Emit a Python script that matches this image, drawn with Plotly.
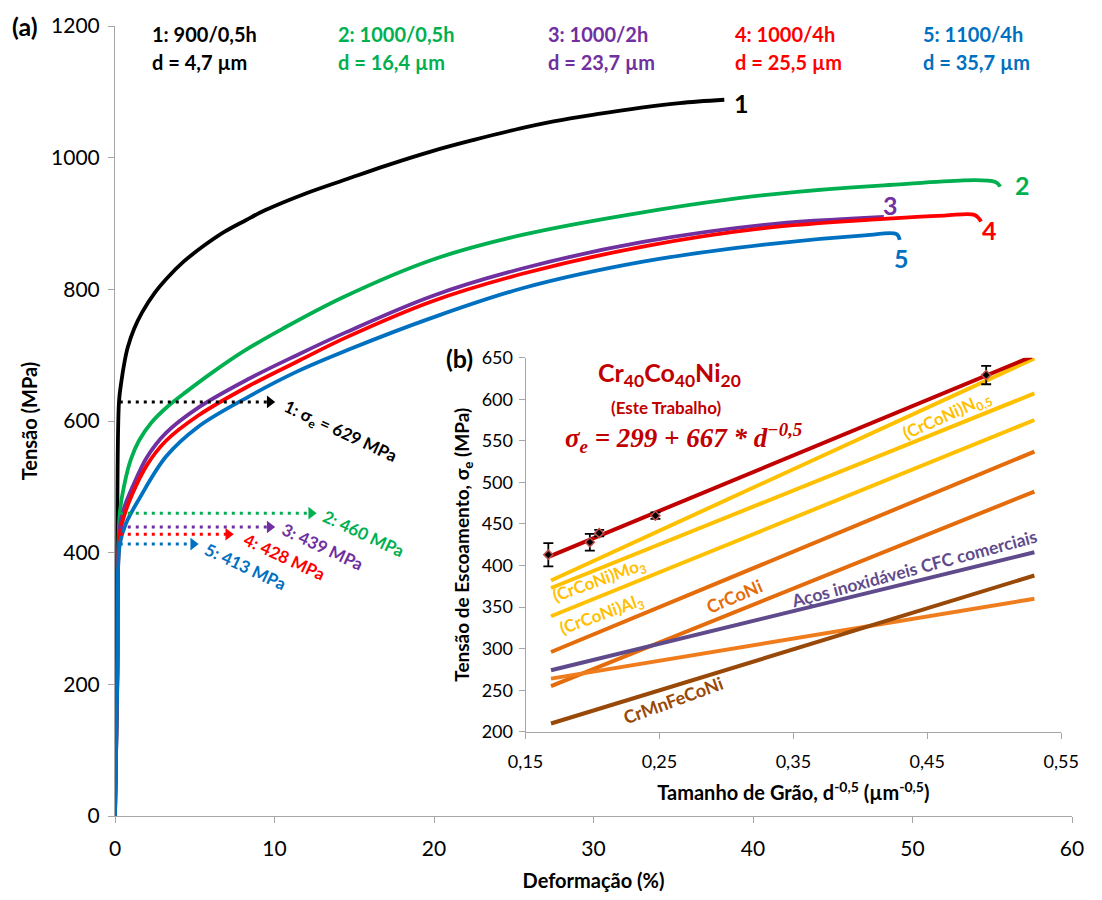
import plotly.graph_objects as go

# ---------------- Tensile curves: strain (%) vs. stress (MPa) ----------------
strain_1 = [0, 0.12, 0.25, 0.4, 0.6, 0.8, 1.2, 1.7, 2.5, 3.3, 4.3, 5.5, 6.9, 8.2, 9.4, 12.0,
            14.6, 17.0, 19.9, 22.5, 25.0, 27.5, 30.2, 33.0, 35.4, 38.2]
stress_1 = [0, 320, 629, 660, 690, 712, 740, 765, 795, 818, 842, 865, 888, 905, 920, 946,
            968, 988, 1010, 1027, 1042, 1055, 1066, 1076, 1083, 1088]

strain_2 = [0, 0.15, 0.3, 0.6, 1.0, 1.5, 2.3, 3.3, 4.5, 6.0, 8.0, 10.5, 14.3, 19.9, 25.6,
            33.1, 40.7, 48.2, 55.2, 55.5]
stress_2 = [0, 230, 460, 505, 542, 570, 598, 622, 645, 672, 705, 740, 788, 845, 883,
            917, 943, 958, 963, 956]

strain_3 = [0, 0.15, 0.3, 0.6, 1.1, 2.0, 3.2, 5.2, 8.3, 11.4, 14.5, 19.9, 25.6, 33.1, 40.7, 48.2]
stress_3 = [0, 220, 439, 470, 500, 545, 582, 620, 663, 700, 735, 790, 832, 872, 898, 910]

strain_4 = [0, 0.15, 0.3, 0.6, 1.1, 2.0, 3.2, 5.2, 8.3, 11.4, 14.5, 19.9, 25.6, 33.1, 40.7,
            48.2, 52.0, 53.9, 54.3]
stress_4 = [0, 214, 428, 458, 490, 533, 570, 608, 652, 690, 727, 782, 824, 865, 893,
            907, 912, 913, 903]

strain_5 = [0, 0.15, 0.3, 0.7, 1.5, 3.2, 5.2, 8.3, 11.4, 14.5, 19.9, 25.6, 33.1, 40.7, 47.0, 49.0, 49.2]
stress_5 = [0, 206, 413, 445, 481, 546, 591, 636, 675, 707, 757, 802, 842, 868, 882, 884, 875]

curve_ids = ["1", "2", "3", "4", "5"]
treatments = ["900/0,5h", "1000/0,5h", "1000/2h", "1000/4h", "1100/4h"]
grain_size = ["4,7", "16,4", "23,7", "25,5", "35,7"]        # µm
yield_stress = [629, 460, 439, 428, 413]                     # MPa

# ---------------- Hall-Petch inset ----------------
hp_x = [0.167, 0.198, 0.205, 0.247, 0.494]                  # d^-0.5 (µm^-0.5)
hp_y = [413, 428, 439, 460, 629]                             # MPa
hp_err = [14, 10, 4, 4, 11]
fit_a, fit_b = 299, 667
fit_x = [0.168, 0.528]

lit_names = ["(CrCoNi)N0,5", "(CrCoNi)Mo3", "(CrCoNi)Al3", "CrCoNi", "CrCoNi b",
             "CrCoNi c", "Aços inoxidáveis CFC comerciais", "CrMnFeCoNi"]
lit_x = [0.169, 0.530]
lit_start = [382, 373, 339, 296, 255, 264, 274, 210]
lit_end = [649, 607, 575, 537, 489, 360, 416, 388]

# ---------------- styling ----------------
curve_colors = ["#000000", "#00b050", "#7030a0", "#ff0000", "#0070c0"]
lit_colors = ["#ffc000", "#ffc000", "#ffc000", "#e46c0a", "#e46c0a", "#ef7d1e", "#5f4b8b", "#984807"]
fit_color = "#c00000"
axis_gray = "#a6a6a6"
FONT = "Lato"

# figure frame (pixels)
W, H = 1102, 900
ML, MR, MT, MB = 115, 15, 22, 80


def px(x):
    return (x - ML) / (W - ML - MR)


def py(y):
    return (H - MB - y) / (H - MT - MB)


fig = go.Figure()

strains = [strain_1, strain_2, strain_3, strain_4, strain_5]
stresses = [stress_1, stress_2, stress_3, stress_4, stress_5]
for s, t, c in zip(strains, stresses, curve_colors):
    fig.add_trace(go.Scatter(
        x=s, y=t, mode="lines", hoverinfo="skip",
        line=dict(color=c, width=3.8, shape="spline", smoothing=1.0),
    ))

# dotted arrows marking the yield stress of each curve
arrow_start = 0.3
arrow_tip = [9.7, 12.3, 9.7, 7.1, 4.9]
for ys, tip, c in zip(yield_stress, arrow_tip, curve_colors):
    fig.add_trace(go.Scatter(
        x=[arrow_start, tip], y=[ys, ys], mode="lines", hoverinfo="skip",
        line=dict(color=c, width=3, dash="3px,5px"),
    ))
    fig.add_trace(go.Scatter(
        x=[tip], y=[ys], mode="markers", hoverinfo="skip",
        marker=dict(symbol="triangle-right", size=11, color=c),
    ))

# literature Hall-Petch lines
for s0, s1, c in zip(lit_start, lit_end, lit_colors):
    fig.add_trace(go.Scatter(
        x=lit_x, y=[s0, s1], mode="lines", hoverinfo="skip",
        xaxis="x2", yaxis="y2", line=dict(color=c, width=4),
    ))

# fit of this work
fig.add_trace(go.Scatter(
    x=fit_x, y=[fit_a + fit_b * v for v in fit_x], mode="lines", hoverinfo="skip",
    xaxis="x2", yaxis="y2", line=dict(color=fit_color, width=4),
))
fig.add_trace(go.Scatter(
    x=hp_x, y=hp_y, mode="markers", hoverinfo="skip", xaxis="x2", yaxis="y2",
    marker=dict(symbol="diamond", size=7, color="#000000",
                line=dict(color="#c0504d", width=1.5)),
    error_y=dict(type="data", array=hp_err, color="#000000", thickness=1.8, width=5),
))

ann = []

# series descriptions across the top
legend_x = [151, 339, 553, 743, 934]
for i in range(5):
    ann.append(dict(xref="paper", yref="paper", x=px(legend_x[i]), y=py(30),
                    xanchor="left", yanchor="middle", showarrow=False,
                    text=f"<b>{curve_ids[i]}: {treatments[i]}</b>",
                    font=dict(size=20, color=curve_colors[i], family=FONT)))
    ann.append(dict(xref="paper", yref="paper", x=px(legend_x[i]), y=py(58),
                    xanchor="left", yanchor="middle", showarrow=False,
                    text=f"<b>d = {grain_size[i]} µm</b>",
                    font=dict(size=20, color=curve_colors[i], family=FONT)))

# curve end numbers
end_label_pos = [(39.3, 1083), (56.9, 958), (48.6, 928), (54.8, 890), (49.3, 847)]
for (xx, yy), cid, c in zip(end_label_pos, curve_ids, curve_colors):
    ann.append(dict(x=xx, y=yy, xref="x", yref="y", showarrow=False, text=f"<b>{cid}</b>",
                    font=dict(size=25, color=c, family=FONT)))

# yield stress labels
ys_label_pos = [(14.1, 583), (15.6, 429), (13.0, 409), (10.6, 394), (8.2, 379)]
for i, ((xx, yy), c) in enumerate(zip(ys_label_pos, curve_colors)):
    if i == 0:
        txt = f"<b>{curve_ids[i]}: σ<sub>e</sub> = {yield_stress[i]} MPa</b>"
    else:
        txt = f"<b>{curve_ids[i]}: {yield_stress[i]} MPa</b>"
    ann.append(dict(x=xx, y=yy, xref="x", yref="y", showarrow=False, text=txt,
                    textangle=25, font=dict(size=17, color=c, family=FONT)))

# panel letters
ann.append(dict(xref="paper", yref="paper", x=px(8), y=py(22), xanchor="left", yanchor="middle",
                showarrow=False, text="<b>(a)</b>", font=dict(size=25, family=FONT, color="#000")))
ann.append(dict(xref="paper", yref="paper", x=px(449), y=py(357), xanchor="left", yanchor="middle",
                showarrow=False, text="<b>(b)</b>", font=dict(size=25, family=FONT, color="#000")))

# inset heading and fitted equation
ann.append(dict(xref="paper", yref="paper", x=px(678), y=py(374), showarrow=False,
                text="<b>Cr<sub>40</sub>Co<sub>40</sub>Ni<sub>20</sub></b>",
                font=dict(size=25, color=fit_color, family=FONT)))
ann.append(dict(xref="paper", yref="paper", x=px(675), y=py(407), showarrow=False,
                text="<b>(Este Trabalho)</b>", font=dict(size=17, color=fit_color, family=FONT)))
ann.append(dict(xref="paper", yref="paper", x=px(692), y=py(438), showarrow=False,
                text=f"σ<sub>e</sub> = {fit_a} + {fit_b} * d<sup>−0,5</sup>",
                font=dict(size=27, color=fit_color, family="Liberation Serif",
                          weight="bold", style="italic")))

# labels along the literature lines
lit_label = [
    ("(CrCoNi)N<sub>0,5</sub>", 0.465, 580, -24, lit_colors[0], 17),
    ("(CrCoNi)Mo<sub>3</sub>", 0.2050, 381, -20, lit_colors[1], 17),
    ("(CrCoNi)Al<sub>3</sub>", 0.2070, 341, -20, lit_colors[2], 17),
    ("CrCoNi", 0.306, 363, -23, lit_colors[3], 18),
    ("Aços inoxidáveis CFC comerciais", 0.4404, 397, -15, lit_colors[6], 17.5),
    ("CrMnFeCoNi", 0.2603, 238, -20, lit_colors[7], 18),
]
for txt, xx, yy, ang, c, fs in lit_label:
    ann.append(dict(x=xx, y=yy, xref="x2", yref="y2", showarrow=False, text=f"<b>{txt}</b>",
                    textangle=ang, font=dict(size=fs, color=c, family=FONT)))

axis_common = dict(showline=True, linecolor=axis_gray, linewidth=1, ticks="outside",
                   tickcolor=axis_gray, ticklen=6, showgrid=False, zeroline=False)

fig.update_layout(
    width=W, height=H,
    margin=dict(l=ML, r=MR, t=MT, b=MB),
    paper_bgcolor="white", plot_bgcolor="white",
    separators=",.",
    showlegend=False,
    font=dict(family=FONT, color="#000000"),
    xaxis=dict(range=[0, 60], dtick=10, tick0=0, **axis_common,
               tickfont=dict(size=21, color="#000"), ticklabelstandoff=8,
               title=dict(text="<b>Deformação (%)</b>", font=dict(size=20), standoff=14)),
    yaxis=dict(range=[0, 1200], dtick=200, tick0=0, **axis_common,
               tickfont=dict(size=21, color="#000"), ticklabelstandoff=4,
               title=dict(text="<b>Tensão (MPa)</b>", font=dict(size=20), standoff=8)),
    xaxis2=dict(domain=[px(532), px(1076)], anchor="y2", range=[0.15, 0.55],
                tickvals=[0.15, 0.25, 0.35, 0.45, 0.55], tickformat=".2f", **axis_common,
                tickfont=dict(size=18, color="#000"), ticklabelstandoff=8,
                title=dict(text="<b>Tamanho de Grão, d<sup>-0,5</sup> (µm<sup>-0,5</sup>)</b>",
                           font=dict(size=20), standoff=14)),
    yaxis2=dict(domain=[py(735), py(357)], anchor="x2", range=[200, 650], dtick=50, tick0=200,
                **axis_common, tickfont=dict(size=18, color="#000"), ticklabelstandoff=2,
                title=dict(text="<b>Tensão de Escoamento, σ<sub>e</sub> (MPa)</b>",
                           font=dict(size=19), standoff=6)),
    annotations=ann,
)

fig.write_html("out.html")
